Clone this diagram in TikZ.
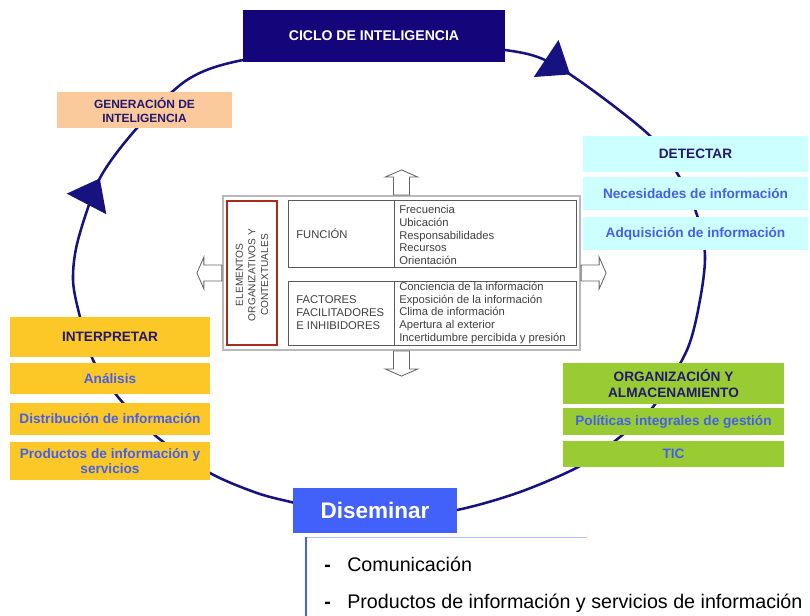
\documentclass[tikz,border=0pt]{standalone}
\usepackage{fontspec}
\setmainfont{Liberation Sans}
\usetikzlibrary{arrows.meta,decorations.markings}

\definecolor{cicloblue}{RGB}{20,6,122}
\definecolor{linenavy}{RGB}{22,18,128}
\definecolor{titletext}{RGB}{35,25,110}
\definecolor{itemblue}{RGB}{70,95,235}
\definecolor{peach}{RGB}{251,202,156}
\definecolor{aqua}{RGB}{204,255,255}
\definecolor{gold}{RGB}{252,200,40}
\definecolor{lime}{RGB}{153,204,51}
\definecolor{disblue}{RGB}{66,96,250}
\definecolor{framered}{RGB}{165,45,25}

\tikzset{
  cyclebox/.style={rectangle, inner sep=0pt, align=center,
    font=\fontsize{9.7}{11}\selectfont\bfseries},
  headbox/.style={cyclebox, text=titletext},
  itembox/.style={cyclebox, text=itemblue},
  cell/.style={rectangle, draw=black!65, line width=0.6pt, inner sep=0pt},
  small/.style={font=\fontsize{8}{9.2}\selectfont, text=black!75,
    align=left, inner sep=0pt},
  blockarr/.pic={
    \draw[fill=white, draw=black!60, line width=0.6pt]
      (0,-8)--(18,-8)--(18,-16)--(25,0)--(18,16)--(18,8)--(0,8)--cycle;
  }
}

\begin{document}
\begin{tikzpicture}[x=0.025cm, y=-0.025cm]
\useasboundingbox (0,0) rectangle (810,616);

% the cycle
\draw[linenavy, line width=1.8pt,
  decoration={markings,
    mark=at position 8.35cm with {\arrow{Triangle[length=0.72cm,width=1.1cm]}},
    mark=at position -4.8cm with {\arrow{Triangle[length=0.72cm,width=1.1cm]}}},
  postaction={decorate}]
  plot[smooth cycle] coordinates {
    (187,80) (243,60) (374,42) (505,50) (560,68) (647,133) (680,178)
    (697,215) (705,255) (700,300) (687,350) (653,407) (620,437) (580,466)
    (520,492) (457,510) (375,522) (295,503) (257,493) (210,473) (157,437)
    (118,397) (93,360) (80,317) (73,280) (78,240) (100,178) (137,128)};

% top
\node[cyclebox, fill=cicloblue, text=white, font=\fontsize{10}{12}\selectfont\bfseries,
  minimum width=6.55cm, minimum height=1.3cm] (ciclo) at (374,36) {CICLO DE INTELIGENCIA};
\node[headbox, fill=peach, font=\fontsize{8.5}{10}\selectfont\bfseries,
  minimum width=4.375cm, minimum height=0.9cm] (gen) at (144.5,110) {GENERACIÓN DE\\INTELIGENCIA};

% detectar
\node[headbox, fill=aqua, minimum width=5.625cm, minimum height=0.9cm]
  (det) at (695.5,154) {DETECTAR};
\node[itembox, fill=aqua, minimum width=5.625cm, minimum height=0.825cm]
  (nec) at (695.5,193.5) {Necesidades de información};
\node[itembox, fill=aqua, minimum width=5.625cm, minimum height=0.825cm]
  (adq) at (695.5,233.5) {Adquisición de información};

% interpretar
\node[headbox, fill=gold, minimum width=5cm, minimum height=1cm]
  (int) at (110,337) {INTERPRETAR};
\node[itembox, fill=gold, minimum width=5cm, minimum height=0.775cm]
  (ana) at (110,378.5) {Análisis};
\node[itembox, fill=gold, minimum width=5cm, minimum height=0.8cm]
  (dis) at (110,419) {Distribución de información};
\node[itembox, fill=gold, minimum width=5cm, minimum height=0.95cm]
  (pro) at (110,461) {Productos de información y\\servicios};

% organizacion
\node[headbox, fill=lime, minimum width=5.525cm, minimum height=1.025cm]
  (org) at (673.5,383.5) {ORGANIZACIÓN Y\\ALMACENAMIENTO};
\node[itembox, fill=lime, minimum width=5.525cm, minimum height=0.675cm]
  (pol) at (673.5,421.5) {Políticas integrales de gestión};
\node[itembox, fill=lime, minimum width=5.525cm, minimum height=0.65cm]
  (tic) at (673.5,454) {TIC};

% diseminar
\node[cyclebox, fill=disblue, text=white, font=\fontsize{16}{18}\selectfont\bfseries,
  minimum width=4.1cm, minimum height=1.125cm] (dsm) at (375,510.5) {Diseminar};
\coordinate (brk) at (306,537);
\coordinate (brkr) at (587,537);
\coordinate (brkb) at (306,616);
\draw[disblue!40, line width=0.6pt] (brk) -- (brkr);
\draw[disblue, line width=1.4pt] (brk) -- (brkb);
\foreach \i/\y/\t in {1/571/Comunicación,
    2/608/Productos de información y servicios de información}
{
    \node[anchor=base west, inner sep=0pt, font=\fontsize{14}{16}\selectfont\bfseries] (dash\i) at (324,\y) {-};
    \node[anchor=base west, inner sep=0pt, font=\fontsize{14}{16}\selectfont] (item\i) at (347,\y) {\t};
}

% centre
\node[rectangle, draw=gray!55, line width=1.5pt, fill=white, inner sep=0pt,
  minimum width=8.925cm, minimum height=3.85cm] (frame) at (401.5,273) {};
\pic[rotate=90] at (frame.north) {blockarr};
\pic[rotate=-90] at (frame.south) {blockarr};
\pic[rotate=180] at (frame.west) {blockarr};
\pic at (frame.east) {blockarr};

\node[rectangle, draw=framered, line width=1pt, minimum width=1.25cm,
  minimum height=3.6cm] (elem) at (252,273) {};
\node[small, align=center, rotate=90, font=\fontsize{7.2}{8.9}\selectfont] (elemtxt)
  at (252,275) {ELEMENTOS\\ORGANIZATIVOS Y\\CONTEXTUALES};

\node[cell, minimum width=2.65cm, minimum height=1.675cm] (fun) at (341,233.5) {};
\node[cell, minimum width=4.55cm, minimum height=1.675cm] (funlist) at (485,233.5) {};
\node[cell, minimum width=2.65cm, minimum height=1.6cm] (fac) at (341,313) {};
\node[cell, minimum width=4.55cm, minimum height=1.6cm] (faclist) at (485,313) {};

\node[small, anchor=west] (funtxt) at (296,234) {FUNCIÓN};
\node[small, anchor=west] (funitems) at (399,235)
  {Frecuencia\\Ubicación\\Responsabilidades\\Recursos\\Orientación};
\node[small, anchor=west] (factxt) at (296,313)
  {FACTORES\\FACILITADORES\\E INHIBIDORES};
\node[small, anchor=west] (facitems) at (399,313)
  {Conciencia de la información\\Exposición de la información\\Clima de información\\Apertura al exterior\\Incertidumbre percibida y presión};
\end{tikzpicture}
\end{document}
